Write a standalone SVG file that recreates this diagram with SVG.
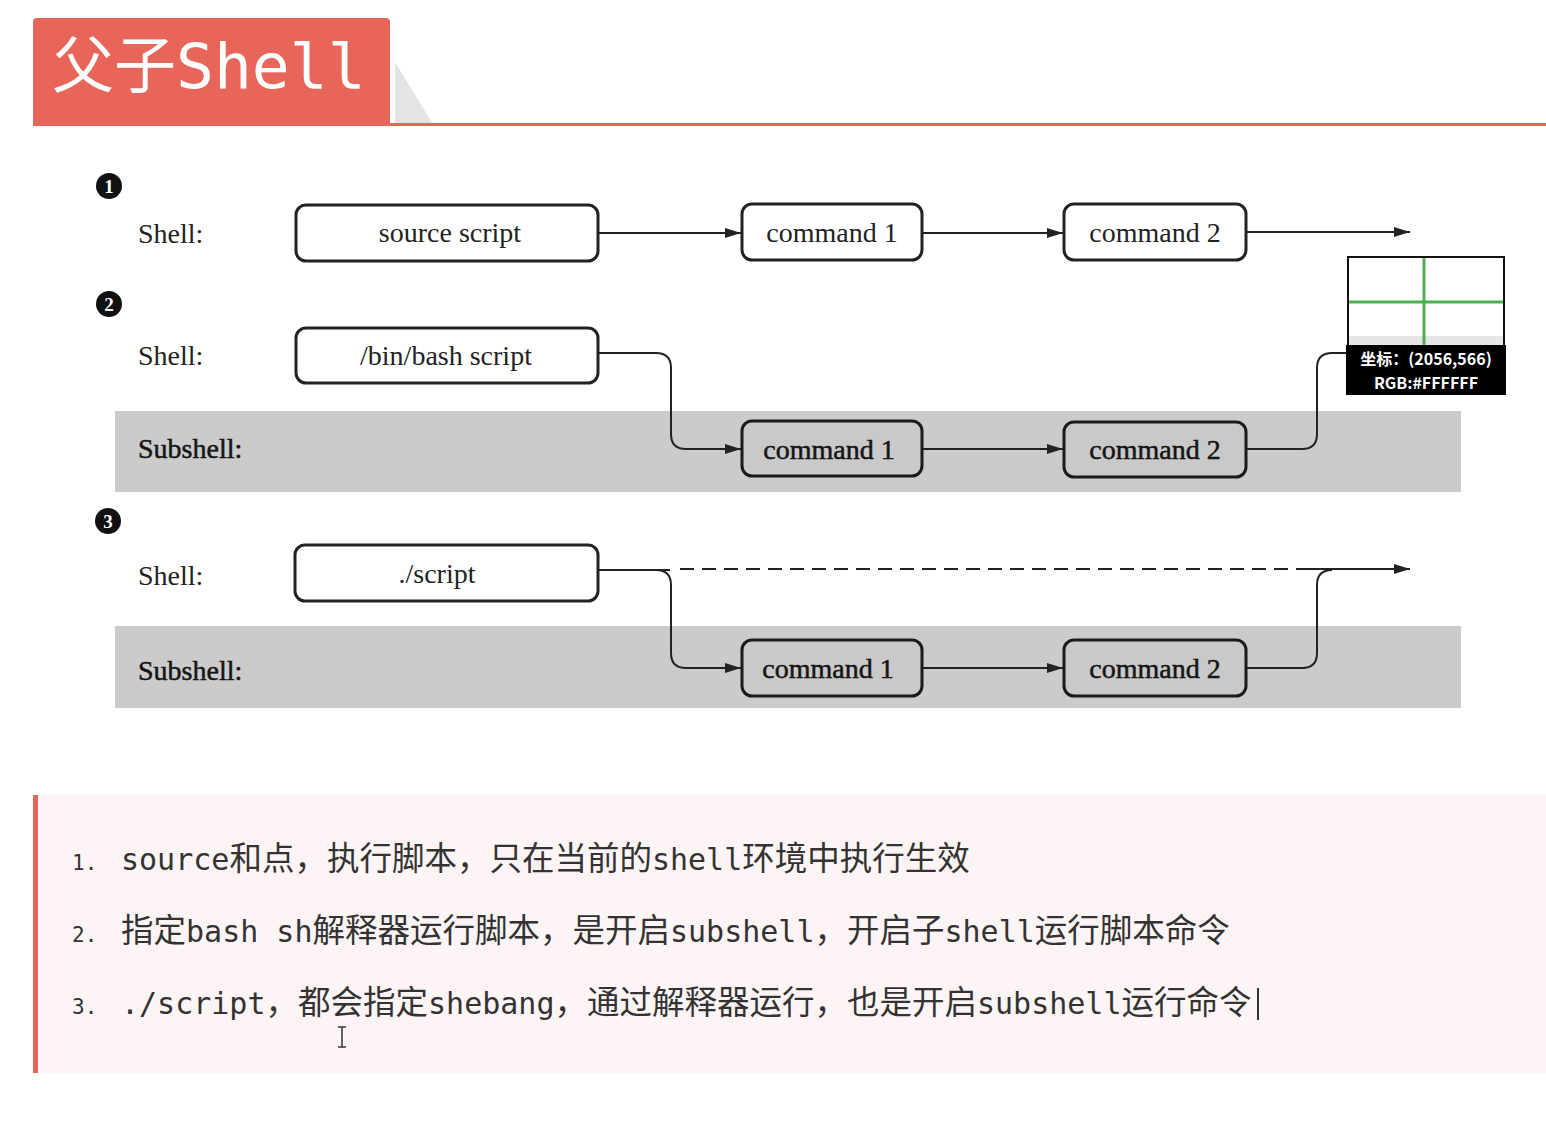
<svg xmlns="http://www.w3.org/2000/svg" width="1546" height="1128" viewBox="0 0 1546 1128">
<style>
.lbl{font-family:"Liberation Serif","Times New Roman",serif;font-size:28px;fill:#222}
.bnd{fill:#151515;stroke:#151515;stroke-width:0.5}
.box{fill:#fff;stroke:#222;stroke-width:3}
.gbox{fill:#c9c9c9;stroke:#1a1a1a;stroke-width:3}
.con{fill:none;stroke:#222;stroke-width:2}
.num{font-family:"Liberation Serif",serif;font-size:19px;font-weight:bold;fill:#fff;text-anchor:middle}
.li{font-family:"DejaVu Sans Mono","Noto Sans CJK SC",monospace;font-size:30px;fill:#333}
.cj{font-family:"Noto Sans CJK SC",sans-serif;font-size:32.5px}
.no{font-family:"DejaVu Sans Mono",monospace;font-size:21px;fill:#333}
.tip{font-family:"Noto Sans CJK SC",sans-serif;font-size:16px;font-weight:bold;fill:#fff;text-anchor:middle}
</style>
<defs>
<marker id="ah" viewBox="0 0 16 10" refX="16" refY="5" markerWidth="16" markerHeight="10" markerUnits="userSpaceOnUse" orient="auto">
<path d="M0,0 L16,5 L0,10 Z" fill="#222"/>
</marker>
</defs>
<rect width="1546" height="1128" fill="#fff"/>

<g id="title">
<polygon points="395,62 395,123 432,123" fill="#e6e4e2"/>
<path d="M33,126 V22 Q33,18 37,18 H386 Q390,18 390,22 V126 Z" fill="#e8655a"/>
<rect x="33" y="123" width="1513" height="3" fill="#e8655a"/>
<text x="52" y="88" fill="#fff"><tspan font-family="Noto Sans CJK SC,sans-serif" font-size="62">父子</tspan><tspan font-family="DejaVu Sans Mono,monospace" font-size="63">Shell</tspan></text>
</g>

<g id="bands">
<rect x="115" y="411" width="1346" height="81" fill="#cbcbcb"/>
<rect x="115" y="626" width="1346" height="82" fill="#cbcbcb"/>
</g>

<g id="markers">
<circle cx="109" cy="186" r="13" fill="#111"/><text class="num" x="109" y="193">1</text>
<circle cx="109" cy="304" r="13" fill="#111"/><text class="num" x="109" y="311">2</text>
<circle cx="108" cy="521" r="13" fill="#111"/><text class="num" x="108" y="528">3</text>
</g>

<g id="row-labels">
<text class="lbl" x="138" y="243">Shell:</text>
<text class="lbl" x="138" y="365">Shell:</text>
<text class="lbl bnd" x="138" y="458">Subshell:</text>
<text class="lbl" x="138" y="585">Shell:</text>
<text class="lbl bnd" x="138" y="680">Subshell:</text>
</g>

<g id="connectors">
<path class="con" d="M598,233 H741" marker-end="url(#ah)"/>
<path class="con" d="M922,233 H1063" marker-end="url(#ah)"/>
<path class="con" d="M1246,232 H1410" marker-end="url(#ah)"/>

<path class="con" d="M598,353 H656 Q671,353 671,368 V434 Q671,449 686,449 H741" marker-end="url(#ah)"/>
<path class="con" d="M922,449 H1063" marker-end="url(#ah)"/>
<path class="con" d="M1246,449 H1302 Q1317,449 1317,434 V368 Q1317,353 1332,353 H1410" marker-end="url(#ah)"/>

<path class="con" d="M598,570 H670"/>
<path class="con" d="M680,569 H1305" stroke-dasharray="14 8" stroke-width="3"/>
<path class="con" d="M1305,569 H1410" marker-end="url(#ah)"/>
<path class="con" d="M656,570 Q671,570 671,585 V653 Q671,668 686,668 H741" marker-end="url(#ah)"/>
<path class="con" d="M922,668 H1063" marker-end="url(#ah)"/>
<path class="con" d="M1246,668 H1302 Q1317,668 1317,653 V585 Q1317,570 1332,570"/>
</g>

<g id="n-source">
<rect class="box" x="296" y="205" width="302" height="56" rx="10"/>
<text class="lbl" x="450" y="242" text-anchor="middle">source script</text>
</g>
<g id="n-cmd1-a">
<rect class="box" x="742" y="204" width="180" height="56" rx="10"/>
<text class="lbl" x="832" y="242" text-anchor="middle">command 1</text>
</g>
<g id="n-cmd2-a">
<rect class="box" x="1064" y="204" width="182" height="56" rx="10"/>
<text class="lbl" x="1155" y="242" text-anchor="middle">command 2</text>
</g>

<g id="n-bash">
<rect class="box" x="296" y="328" width="302" height="55" rx="10"/>
<text class="lbl" x="446" y="365" text-anchor="middle">/bin/bash script</text>
</g>
<g id="n-cmd1-b">
<rect class="gbox" x="742" y="421" width="180" height="55" rx="10"/>
<text class="lbl bnd" x="829" y="459" text-anchor="middle">command 1</text>
</g>
<g id="n-cmd2-b">
<rect class="gbox" x="1064" y="422" width="182" height="55" rx="10"/>
<text class="lbl bnd" x="1155" y="459" text-anchor="middle">command 2</text>
</g>

<g id="n-script">
<rect class="box" x="295" y="545" width="303" height="56" rx="10"/>
<text class="lbl" x="437" y="583" text-anchor="middle">./script</text>
</g>
<g id="n-cmd1-c">
<rect class="gbox" x="742" y="640" width="180" height="56" rx="10"/>
<text class="lbl bnd" x="828" y="678" text-anchor="middle">command 1</text>
</g>
<g id="n-cmd2-c">
<rect class="gbox" x="1064" y="640" width="182" height="56" rx="10"/>
<text class="lbl bnd" x="1155" y="678" text-anchor="middle">command 2</text>
</g>

<g id="picker">
<rect x="1348" y="257" width="156" height="88" fill="#fff" stroke="#111" stroke-width="2"/>
<rect x="1349" y="336" width="154" height="9" fill="#e6e6e6"/>
<line x1="1424" y1="258" x2="1424" y2="345" stroke="#4caf50" stroke-width="3"/>
<line x1="1349" y1="302" x2="1503" y2="302" stroke="#4caf50" stroke-width="3"/>
<rect x="1346" y="345" width="160" height="50" fill="#000"/>
<text class="tip" x="1426" y="365">坐标：(2056,566)</text>
<text class="tip" x="1426" y="389">RGB:#FFFFFF</text>
</g>

<g id="notes">
<rect x="33" y="795" width="1513" height="278" fill="#fdf5f5"/>
<rect x="33" y="795" width="5" height="278" fill="#e8655a"/>
<text class="no" x="72" y="870">1.</text>
<text class="li" x="121" y="870">source<tspan class="cj">和点，执行脚本，只在当前的</tspan>shell<tspan class="cj">环境中执行生效</tspan></text>
<text class="no" x="72" y="942">2.</text>
<text class="li" x="121" y="942"><tspan class="cj">指定</tspan>bash sh<tspan class="cj">解释器运行脚本，是开启</tspan>subshell<tspan class="cj">，开启子</tspan>shell<tspan class="cj">运行脚本命令</tspan></text>
<text class="no" x="72" y="1014">3.</text>
<text class="li" x="121" y="1014">./script<tspan class="cj">，都会指定</tspan>shebang<tspan class="cj">，通过解释器运行，也是开启</tspan>subshell<tspan class="cj">运行命令</tspan></text>
<line x1="1258" y1="988" x2="1258" y2="1020" stroke="#333" stroke-width="2"/>
<path d="M338,1027 H346 M342,1027 V1047 M338,1047 H346" stroke="#333" stroke-width="1.5" fill="none"/>
</g>
</svg>
